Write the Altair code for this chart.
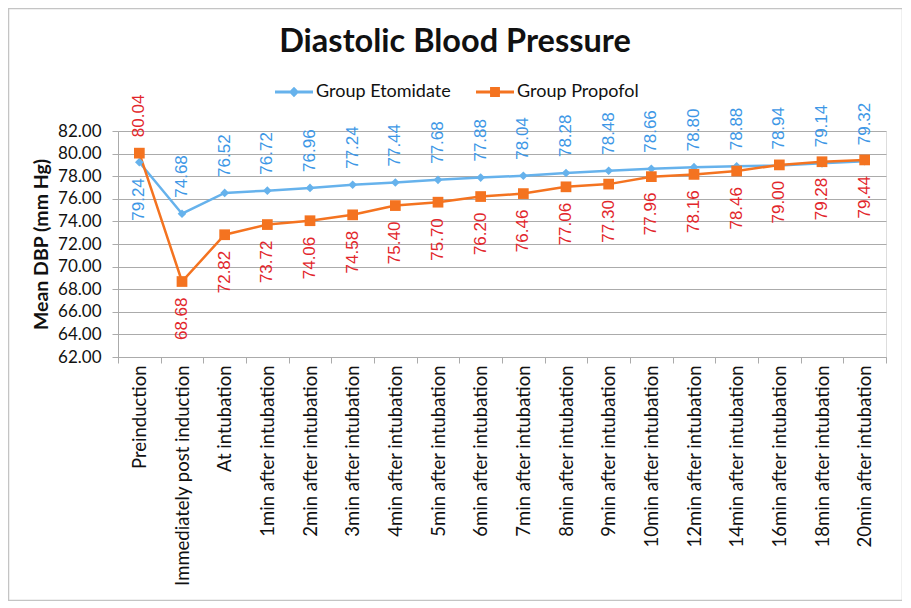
import altair as alt
import pandas as pd

categories = [
    "Preinduction", "Immediately post induction", "At intubation",
    "1min after intubation", "2min after intubation", "3min after intubation",
    "4min after intubation", "5min after intubation", "6min after intubation",
    "7min after intubation", "8min after intubation", "9min after intubation",
    "10min after intubation", "12min after intubation", "14min after intubation",
    "16min after intubation", "18min after intubation", "20min after intubation",
]
etomidate = [79.24, 74.68, 76.52, 76.72, 76.96, 77.24, 77.44, 77.68, 77.88,
             78.04, 78.28, 78.48, 78.66, 78.80, 78.88, 78.94, 79.14, 79.32]
propofol = [80.04, 68.68, 72.82, 73.72, 74.06, 74.58, 75.40, 75.70, 76.20,
            76.46, 77.06, 77.30, 77.96, 78.16, 78.46, 79.00, 79.28, 79.44]
groups = ["Group Etomidate", "Group Propofol"]
y_ticks = [62, 64, 66, 68, 70, 72, 74, 76, 78, 80, 82]

rows = []
for g, vals in zip(groups, [etomidate, propofol]):
    for i, (c, v) in enumerate(zip(categories, vals)):
        rows.append({"cat": c, "idx": i, "group": g, "value": v})
df = pd.DataFrame(rows)

BLUE = "#66B2EC"
BLUE_TXT = "#3D97E6"
ORANGE = "#F47320"
RED_TXT = "#E2262B"
GRID = "#ababab"

W, H = 768, 226

x_enc = alt.X(
    "cat:N", sort=categories, bandPosition=0.5,
    scale=alt.Scale(type="band", domain=categories, paddingInner=0, paddingOuter=0),
    axis=alt.Axis(title=None, labelAngle=270, labelFont="Lato", labelFontSize=18.5,
                  labelColor="#111111", tickBand="extent", tickSize=6,
                  tickColor=GRID, domainColor=GRID, labelPadding=2, grid=False,
                  labelLimit=400),
)
y_enc = alt.Y(
    "value:Q", scale=alt.Scale(domain=[62, 82], nice=False, zero=False),
    axis=alt.Axis(values=y_ticks, format=".2f", title="Mean DBP (mm Hg)",
                  titleFont="Lato", titleFontSize=19.5, titleFontWeight="bold",
                  titleColor="#111111", titlePadding=6, titleLimit=400,
                  labelFont="Lato", labelFontSize=17, labelColor="#111111",
                  tickSize=6, tickColor=GRID, domainColor=GRID, gridColor=GRID,
                  labelPadding=11, grid=True),
)

base = alt.Chart(df)

frame = alt.Chart(alt.Data(values=[{"a": 1}])).mark_rect(
    fillOpacity=0, stroke="#c4c4c4", strokeWidth=1.5
).encode(x=alt.value(-109.5), x2=alt.value(784.5), y=alt.value(-122.5), y2=alt.value(469.5))

eto = base.transform_filter(alt.datum.group == groups[0])
pro = base.transform_filter(alt.datum.group == groups[1])

eto_line = eto.mark_line(color=BLUE, strokeWidth=2.5).encode(x=x_enc, y=y_enc)
eto_pts = eto.mark_point(shape="diamond", filled=True, color=BLUE, size=75, opacity=1).encode(x=x_enc, y=y_enc)
pro_line = pro.mark_line(color=ORANGE, strokeWidth=2.5).encode(x=x_enc, y=y_enc)
pro_pts = pro.mark_point(shape="square", filled=True, color=ORANGE, size=115, opacity=1).encode(x=x_enc, y=y_enc)

def labels(src, cond, align, dx, color):
    return src.transform_filter(cond).mark_text(
        angle=270, align=align, baseline="middle", dx=dx,
        font="Liberation Sans", fontSize=17, color=color
    ).encode(x=x_enc, y=y_enc, text=alt.Text("value:Q", format=".2f"))

eto_lab_first = labels(eto, alt.datum.idx == 0, "right", -16, BLUE_TXT)
eto_lab_rest = labels(eto, alt.datum.idx > 0, "left", 16, BLUE_TXT)
pro_lab_first = labels(pro, alt.datum.idx == 0, "left", 16, RED_TXT)
pro_lab_rest = labels(pro, alt.datum.idx > 0, "right", -16, RED_TXT)

leg_diamond = "M-1,-0.08H1V0.08H-1Z M0,-0.27L0.27,0L0,0.27L-0.27,0Z"
leg_square = "M-1,-0.08H1V0.08H-1Z M-0.26,-0.26H0.26V0.26H-0.26Z"

leg_props = dict(title=None, orient="none", direction="horizontal",
                 legendX=157, legendY=-58, labelFont="Lato",
                 labelFontSize=18, labelColor="#111111",
                 symbolSize=1444, symbolStrokeWidth=0,
                 labelOffset=3, columnPadding=25)

legend_layer = base.transform_filter("false").mark_point(filled=True, opacity=1).encode(
    x=x_enc, y=y_enc,
    color=alt.Color("group:N", scale=alt.Scale(domain=groups, range=[BLUE, ORANGE]),
                    legend=alt.Legend(**leg_props)),
    shape=alt.Shape("group:N", scale=alt.Scale(domain=groups, range=[leg_diamond, leg_square]),
                    legend=alt.Legend(**leg_props)),
)

chart = alt.layer(
    frame, eto_line, pro_line, eto_pts, pro_pts,
    eto_lab_first, eto_lab_rest, pro_lab_first, pro_lab_rest, legend_layer,
).properties(
    width=W, height=H,
    title=alt.TitleParams("Diastolic Blood Pressure", font="Lato", fontSize=32.5,
                          fontWeight="bold", color="#111111", anchor="middle",
                          dx=-47, dy=55),
    autosize=alt.AutoSizeParams(type="none"),
    padding={"left": 110, "top": 123, "right": 16, "bottom": 244},
).configure_view(stroke="transparent").configure(background="white")

chart.save("out.html", embed_options={"renderer": "svg", "actions": False})
